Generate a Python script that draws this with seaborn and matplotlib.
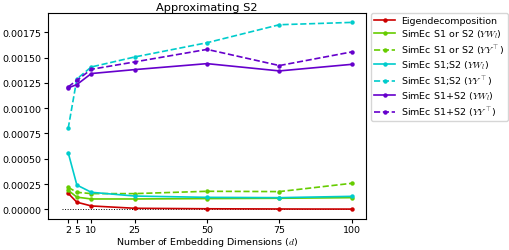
import matplotlib
matplotlib.use('Agg')
import matplotlib.pyplot as plt
import seaborn as sns
import pandas as pd

dims = [2, 5, 10, 25, 50, 75, 100]

eigen = [0.000158, 0.000070, 0.000033, 0.000010, 0.000005, 0.000003, 0.000002]
s1_or_s2_yw = [0.000188, 0.000120, 0.000102, 0.000102, 0.000106, 0.000109, 0.000115]
s1_or_s2_yy = [0.000217, 0.000168, 0.000155, 0.000155, 0.000178, 0.000175, 0.000257]
s1s2_yw = [0.000560, 0.000240, 0.000168, 0.000131, 0.000118, 0.000115, 0.000128]
s1s2_yy = [0.000800, 0.001290, 0.001408, 0.001507, 0.001648, 0.001826, 0.001849]
s1ps2_yw = [0.001201, 0.001234, 0.001343, 0.001382, 0.001441, 0.001369, 0.001434]
s1ps2_yy = [0.001211, 0.001276, 0.001385, 0.001458, 0.001582, 0.001422, 0.001557]

series = [
    ('Eigendecomposition', eigen, '#cc0000', '-'),
    (r'SimEc S1 or S2 ($YW_l$)', s1_or_s2_yw, '#66cc00', '-'),
    (r'SimEc S1 or S2 ($YY^\top$)', s1_or_s2_yy, '#66cc00', '--'),
    (r'SimEc S1;S2 ($YW_l$)', s1s2_yw, '#00cccc', '-'),
    (r'SimEc S1;S2 ($YY^\top$)', s1s2_yy, '#00cccc', '--'),
    (r'SimEc S1+S2 ($YW_l$)', s1ps2_yw, '#6600cc', '-'),
    (r'SimEc S1+S2 ($YY^\top$)', s1ps2_yy, '#6600cc', '--'),
]

plt.rcParams['mathtext.fontset'] = 'cm'
plt.rcParams['font.size'] = 6.5

fig, ax = plt.subplots(figsize=(5.1, 2.51), dpi=100)
ax.plot([0, 100], [0, 0], 'k:', linewidth=0.7)

for label, vals, color, ls in series:
    df = pd.DataFrame({'d': dims, 'err': vals})
    sns.lineplot(data=df, x='d', y='err', color=color, linestyle=ls,
                 marker='o', markersize=3.2, markeredgewidth=0,
                 linewidth=1.2, label=label, ax=ax)

ax.set_xticks(dims)
ax.set_xticklabels(['2', '5', '10', '25', '50', '75', '100'])
ax.set_yticks([0, 0.00025, 0.0005, 0.00075, 0.001, 0.00125, 0.0015, 0.00175])
ax.yaxis.set_major_formatter(matplotlib.ticker.FormatStrFormatter('%.5f'))
ax.tick_params(labelsize=6.8, length=3, pad=1.5)
ax.set_xlabel(r'Number of Embedding Dimensions ($d$)', fontsize=6.8, labelpad=1)
ax.set_ylabel('')
ax.set_title('Approximating S2', fontsize=8.2, pad=2)
ax.legend(loc='upper left', bbox_to_anchor=(1.015, 1.0), fontsize=6.8,
          handlelength=2.2, borderaxespad=0, labelspacing=0.25,
          borderpad=0.35, handletextpad=0.6)

fig.subplots_adjust(left=0.094, right=0.718, top=0.944, bottom=0.125)
fig.savefig('out.png', dpi=100)
